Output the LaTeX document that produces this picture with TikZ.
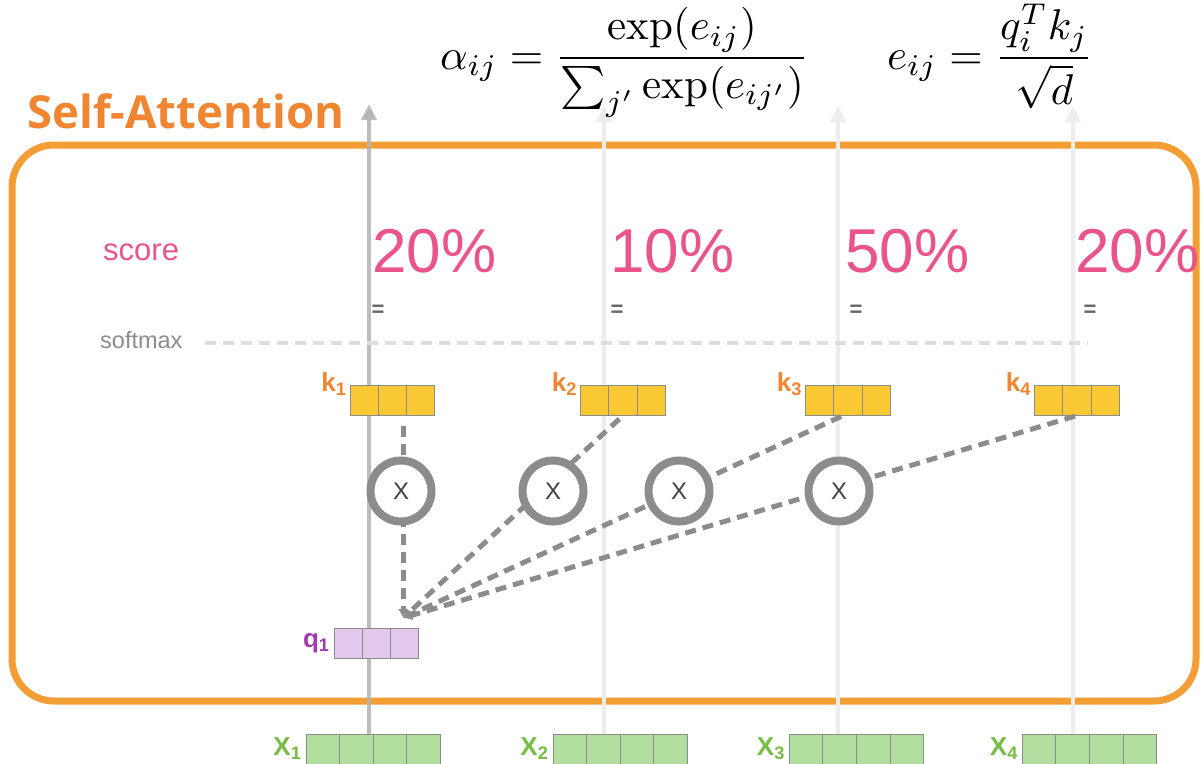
\documentclass[tikz,border=0pt]{standalone}
\usepackage{fontspec}
\usetikzlibrary{arrows.meta,positioning,shapes.multipart}
\newfontfamily\headfont{Open Sans}
\newfontfamily\labelfont{Liberation Sans}
\definecolor{frameorange}{RGB}{243,158,52}
\definecolor{titleorange}{RGB}{240,133,50}
\definecolor{scorepink}{RGB}{233,84,138}
\definecolor{keyyellow}{RGB}{249,200,51}
\definecolor{inputgreen}{RGB}{178,222,160}
\definecolor{labelgreen}{RGB}{118,190,67}
\definecolor{queryfill}{RGB}{228,200,236}
\definecolor{querypurple}{RGB}{160,60,175}
\definecolor{opgrey}{RGB}{140,140,140}

\begin{document}
\begin{tikzpicture}[x=1pt,y=-1pt,
  frame/.style={draw=frameorange,line width=7pt,rounded corners=42pt,
    minimum width=1184pt,minimum height=556pt},
  vec/.style={rectangle split,rectangle split horizontal,draw=black!45,
    line width=0.8pt,inner ysep=12.5pt,
    rectangle split empty part width=0pt,rectangle split empty part height=0pt,
    rectangle split empty part depth=0pt},
  key/.style={vec,rectangle split parts=3,inner xsep=11.7pt,fill=keyyellow},
  query/.style={vec,rectangle split parts=3,inner xsep=11.7pt,fill=queryfill},
  input/.style={vec,rectangle split parts=4,inner xsep=14.3pt,inner ysep=14pt,
    fill=inputgreen},
  klabel/.style={font=\labelfont\bfseries\fontsize{26}{28}\selectfont,
    text=titleorange,inner sep=0pt},
  mult/.style={circle,draw=opgrey,line width=8pt,fill=white,minimum size=61pt,
    inner sep=0pt,font=\labelfont\fontsize{24}{26}\selectfont,text=black!75},
  pct/.style={font=\labelfont\fontsize{62}{66}\selectfont,text=scorepink,
    inner sep=0pt,anchor=base west},
  eqsign/.style={font=\labelfont\bfseries\fontsize{22}{24}\selectfont,
    text=black!60,inner sep=0pt},
  formula/.style={inner sep=0pt,anchor=base west},
  flowup/.style={-{Triangle[length=16pt,width=15pt]},line width=4pt},
  attend/.style={dashed,dash pattern=on 11pt off 7pt,line width=5pt,draw=opgrey,
    -{Latex[length=9pt,width=10pt]}}
]
  \clip (0,0) rectangle (1201,763);
  \fill[white] (0,0) rectangle (1201,763);

  % attention block
  \node[frame] (attn) at (604,423) {};
  \node[font=\headfont\bfseries\fontsize{45.5}{48}\selectfont,text=titleorange,
    inner sep=0pt,anchor=base west] (title) at (27,128) {Self-Attention};

  % inputs
  \node[input] (x1) at (373,751) {};
  \node[input] (x2) at (620,751) {};
  \node[input] (x3) at (856.5,751) {};
  \node[input] (x4) at (1089.5,751) {};

  % residual / value flow
  \coordinate (top1) at (369,104);
  \coordinate (top2) at (604,106);
  \coordinate (top3) at (838,106);
  \coordinate (top4) at (1073,106);
  \draw[flowup,draw=black!30,opacity=0.85] (x1.north -| top1) -- (top1);
  \draw[flowup,draw=black!7] (x2.north -| top2) -- (top2);
  \draw[flowup,draw=black!7] (x3.north -| top3) -- (top3);
  \draw[flowup,draw=black!7] (x4.north -| top4) -- (top4);

  % scores
  \node[font=\labelfont\fontsize{31}{34}\selectfont,text=scorepink,inner sep=0pt,
    anchor=base west] (score) at (103,260) {score};
  \node[pct] (s1) at (372,272) {20\%};
  \node[pct] (s2) at (610,272) {10\%};
  \node[pct] (s3) at (845,272) {50\%};
  \node[pct] (s4) at (1075,272) {20\%};
  \node[eqsign] (e1) at (378,311) {=};
  \node[eqsign] (e2) at (617,311) {=};
  \node[eqsign] (e3) at (856,311) {=};
  \node[eqsign] (e4) at (1090,311) {=};

  % softmax
  \node[font=\labelfont\fontsize{23.5}{26}\selectfont,text=black!45,inner sep=0pt,
    anchor=base west] (softmax) at (100,348) {softmax};
  \coordinate (smend) at (1088,343);
  \draw[dashed,dash pattern=on 11pt off 7pt,line width=4pt,draw=black!13]
    ([xshift=22pt]softmax.east |- smend) -- (smend);

  % keys and query
  \node[key] (k1) at (392.5,400.5) {};
  \node[key] (k2) at (623,400.5) {};
  \node[key] (k3) at (848,400.5) {};
  \node[key] (k4) at (1077,400.5) {};
  \node[query] (q1) at (376.5,643.5) {};
  \coordinate (meet) at (403,618);

  % dot products
  \draw[attend,shorten <=10pt] (k1.south -| meet) -- (meet);
  \draw[attend,shorten <=5pt] (k2.south) -- (meet);
  \draw[attend,shorten <=2pt] ([xshift=-5pt]k3.south) -- (meet);
  \draw[attend,shorten <=2pt] (k4.south) -- (meet);
  \node[mult] (m1) at (401,491) {X};
  \node[mult] (m2) at (553,491) {X};
  \node[mult] (m3) at (679,491) {X};
  \node[mult] (m4) at (839,491) {X};

  % labels
  \node[klabel,left=3pt of k1.north west,anchor=base east,yshift=-6pt]
    {k\textsubscript{1}};
  \node[klabel,left=3pt of k2.north west,anchor=base east,yshift=-6pt]
    {k\textsubscript{2}};
  \node[klabel,left=3pt of k3.north west,anchor=base east,yshift=-6pt]
    {k\textsubscript{3}};
  \node[klabel,left=3pt of k4.north west,anchor=base east,yshift=-6pt]
    {k\textsubscript{4}};
  \node[klabel,text=querypurple,left=4pt of q1] {q\textsubscript{1}};
  \node[klabel,text=labelgreen,left=4pt of x1.north west,anchor=north east,
    yshift=-3pt] {X\textsubscript{1}};
  \node[klabel,text=labelgreen,left=4pt of x2.north west,anchor=north east,
    yshift=-3pt] {X\textsubscript{2}};
  \node[klabel,text=labelgreen,left=4pt of x3.north west,anchor=north east,
    yshift=-3pt] {X\textsubscript{3}};
  \node[klabel,text=labelgreen,left=4pt of x4.north west,anchor=north east,
    yshift=-3pt] {X\textsubscript{4}};

  % formulas
  \node[formula] (alpha) at (440,69) {\scalebox{4.3}{$\displaystyle
    \alpha_{ij}=\frac{\exp(e_{ij})}{\sum_{j'}\exp(e_{ij'})}$}};
  \node[formula] (energy) at (887,69) {\scalebox{4.3}{$\displaystyle
    e_{ij}=\frac{q_i^Tk_j}{\sqrt{d}}$}};
\end{tikzpicture}
\end{document}
